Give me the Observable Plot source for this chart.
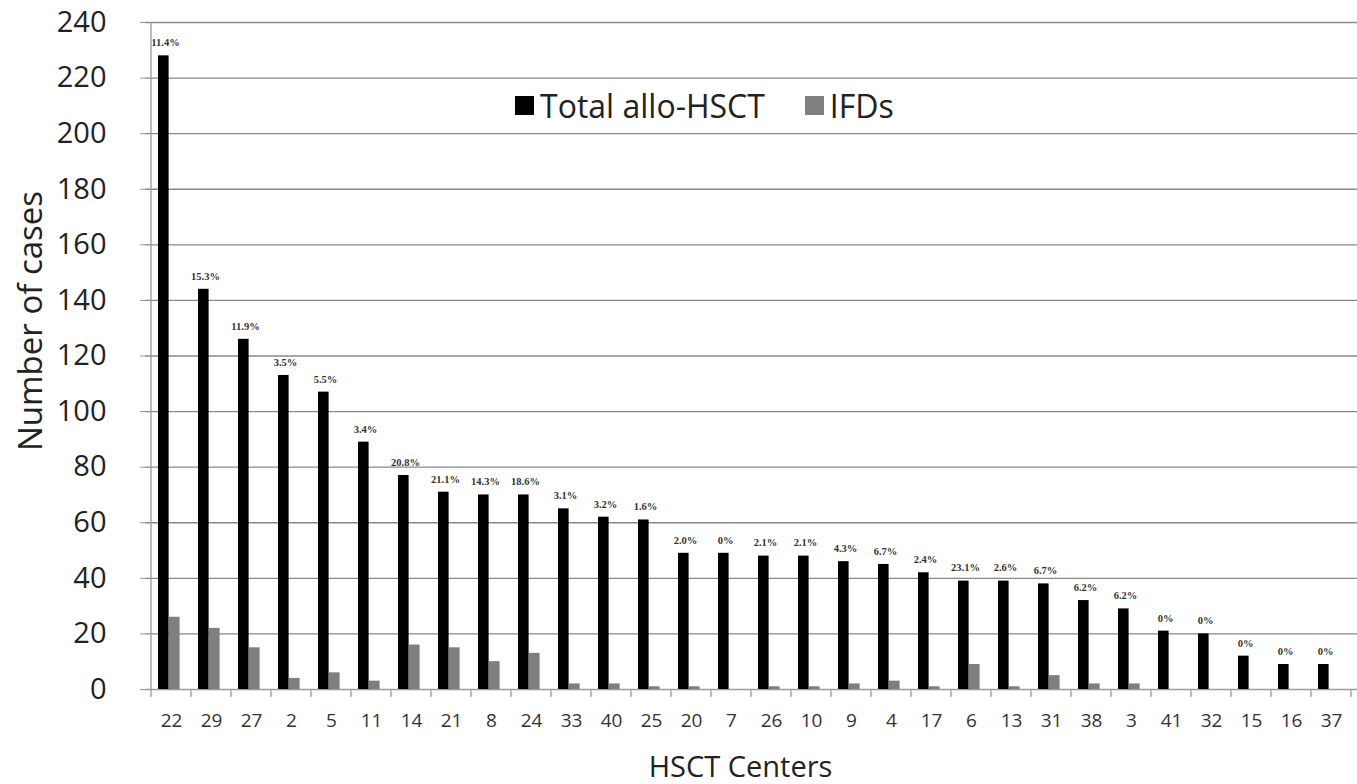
<!DOCTYPE html>
<html><head><meta charset="utf-8">
<script src="https://cdn.jsdelivr.net/npm/d3@7"></script>
<script src="https://cdn.jsdelivr.net/npm/@observablehq/plot@0.6"></script>
<style>
body{margin:0;background:#fff;font-family:"Open Sans",sans-serif;}
#wrap{position:relative;width:1357px;height:784px;overflow:hidden;}
#legend{position:absolute;left:515px;top:84px;height:42px;display:flex;align-items:center;font-size:32px;color:#222;white-space:nowrap;}
.sw{display:inline-block;width:19px;height:19px;margin-right:6px;}
.item{display:flex;align-items:center;margin-right:40px;}
</style></head><body>
<div id="wrap">
<div id="legend">
<span class="item"><span class="sw" style="background:#000"></span>Total allo-HSCT</span>
<span class="item"><span class="sw" style="background:#7f7f7f"></span>IFDs</span>
</div>
</div>
<script>
const centers = ["22","29","27","2","5","11","14","21","8","24","33","40","25","20","7","26","10","9","4","17","6","13","31","38","3","41","32","15","16","37"];
const totals = [228,144,126,113,107,89,77,71,70,70,65,62,61,49,49,48,48,46,45,42,39,39,38,32,29,21,20,12,9,9];
const ifds = [26,22,15,4,6,3,16,15,10,13,2,2,1,1,0,1,1,2,3,1,9,1,5,2,2,0,0,0,0,0];
const pctLabels = ["11.4%","15.3%","11.9%","3.5%","5.5%","3.4%","20.8%","21.1%","14.3%","18.6%","3.1%","3.2%","1.6%","2.0%","0%","2.1%","2.1%","4.3%","6.7%","2.4%","23.1%","2.6%","6.7%","6.2%","6.2%","0%","0%","0%","0%","0%"];
const yTicks = d3.range(0, 241, 20);

const rows = centers.map((c, i) => ({center: c, total: totals[i], ifd: ifds[i], pct: pctLabels[i]}));

const plot = Plot.plot({
  width: 1357, height: 784,
  marginLeft: 145, marginRight: 0, marginTop: 22, marginBottom: 95,
  style: {fontFamily: "Open Sans", background: "#fff", color: "#222", overflow: "visible"},
  x: {domain: centers, padding: 0, axis: null},
  y: {domain: [0, 240], axis: null},
  marks: [
    Plot.ruleY(yTicks.slice(1), {stroke: "#888", strokeWidth: 1.3}),
    Plot.ruleY([0], {stroke: "#999", strokeWidth: 1.3}),
    Plot.axisY({ticks: yTicks, tickSize: 5, tickPadding: 34, fontSize: 29, stroke: "#999", fill: "#222", label: null}),
    Plot.axisX({tickSize: 0, tickPadding: 24, fontSize: 19, fill: "#333", label: null}),
    Plot.barY(rows, {x: "center", y: "total", fill: "#000", insetLeft: 7, insetRight: 22.4}),
    Plot.barY(rows, {x: "center", y: "ifd", fill: "#7f7f7f", insetLeft: 18, insetRight: 11.4}),
    Plot.text(rows, {x: "center", y: "total", text: "pct", dx: -6, dy: -13, fontSize: 10.5, fontWeight: "bold", fontFamily: "Liberation Serif", fill: "#333"}),
    Plot.text(["Number of cases"], {frameAnchor: "left", textAnchor: "middle", rotate: -90, dx: -114, dy: -35, fontSize: 33, fill: "#222"}),
    Plot.text(["HSCT Centers"], {frameAnchor: "bottom", lineAnchor: "middle", dx: -11, dy: 78, fontSize: 29, fill: "#222"})
  ]
});

// axis line and category boundary ticks from the plot's own scales
const xs = plot.scale("x");
const ys = plot.scale("y");
const svg = d3.select(plot);
const g = svg.append("g").attr("stroke", "#999").attr("stroke-width", 1.3);
const y0 = ys.apply(0);
const left = xs.apply(centers[0]);
g.append("line").attr("x1", left).attr("x2", left).attr("y1", ys.apply(240)).attr("y2", y0);
const bounds = centers.map(c => xs.apply(c)).concat([xs.apply(centers[centers.length - 1]) + xs.step]);
bounds.forEach(b => g.append("line").attr("x1", b).attr("x2", b).attr("y1", y0).attr("y2", y0 + 8));

document.getElementById("wrap").prepend(plot);
</script>
</body></html>
